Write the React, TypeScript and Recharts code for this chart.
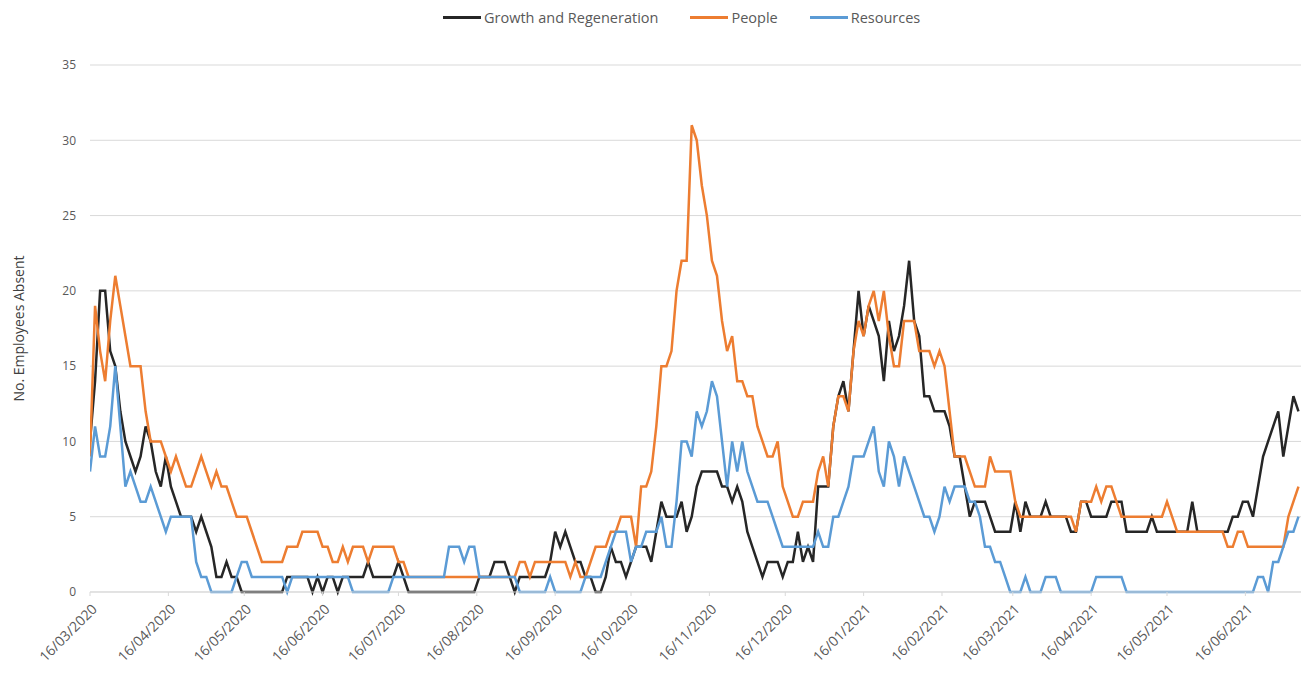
import React from 'react';
import { CartesianGrid, Legend, Line, LineChart, XAxis, YAxis } from 'recharts';

// one reading every second day, starting 16/03/2020
const STEP_DAYS = 2;
const START_DATE = Date.UTC(2020, 2, 16);
const DAY_MS = 24 * 60 * 60 * 1000;

const growth = [
  10, 14, 20, 20, 16, 15, 12, 10, 9, 8,
  9, 11, 10, 8, 7, 9, 7, 6, 5, 5,
  5, 4, 5, 4, 3, 1, 1, 2, 1, 1,
  0, 0, 0, 0, 0, 0, 0, 0, 0, 1,
  1, 1, 1, 1, 0, 1, 0, 1, 1, 0,
  1, 1, 1, 1, 1, 2, 1, 1, 1, 1,
  1, 2, 1, 0, 0, 0, 0, 0, 0, 0,
  0, 0, 0, 0, 0, 0, 0, 1, 1, 1,
  2, 2, 2, 1, 0, 1, 1, 1, 1, 1,
  1, 2, 4, 3, 4, 3, 2, 2, 1, 1,
  0, 0, 1, 3, 2, 2, 1, 2, 3, 3,
  3, 2, 4, 6, 5, 5, 5, 6, 4, 5,
  7, 8, 8, 8, 8, 7, 7, 6, 7, 6,
  4, 3, 2, 1, 2, 2, 2, 1, 2, 2,
  4, 2, 3, 2, 7, 7, 7, 11, 13, 14,
  12, 16, 20, 17, 19, 18, 17, 14, 18, 16,
  17, 19, 22, 18, 17, 13, 13, 12, 12, 12,
  11, 9, 9, 7, 5, 6, 6, 6, 5, 4,
  4, 4, 4, 6, 4, 6, 5, 5, 5, 6,
  5, 5, 5, 5, 4, 4, 6, 6, 5, 5,
  5, 5, 6, 6, 6, 4, 4, 4, 4, 4,
  5, 4, 4, 4, 4, 4, 4, 4, 6, 4,
  4, 4, 4, 4, 4, 4, 5, 5, 6, 6,
  5, 7, 9, 10, 11, 12, 9, 11, 13, 12,
];

const people = [
  9, 19, 16, 14, 18, 21, 19, 17, 15, 15,
  15, 12, 10, 10, 10, 9, 8, 9, 8, 7,
  7, 8, 9, 8, 7, 8, 7, 7, 6, 5,
  5, 5, 4, 3, 2, 2, 2, 2, 2, 3,
  3, 3, 4, 4, 4, 4, 3, 3, 2, 2,
  3, 2, 3, 3, 3, 2, 3, 3, 3, 3,
  3, 2, 2, 1, 1, 1, 1, 1, 1, 1,
  1, 1, 1, 1, 1, 1, 1, 1, 1, 1,
  1, 1, 1, 1, 1, 2, 2, 1, 2, 2,
  2, 2, 2, 2, 2, 1, 2, 1, 1, 2,
  3, 3, 3, 4, 4, 5, 5, 5, 3, 7,
  7, 8, 11, 15, 15, 16, 20, 22, 22, 31,
  30, 27, 25, 22, 21, 18, 16, 17, 14, 14,
  13, 13, 11, 10, 9, 9, 10, 7, 6, 5,
  5, 6, 6, 6, 8, 9, 7, 11, 13, 13,
  12, 16, 18, 17, 19, 20, 18, 20, 17, 15,
  15, 18, 18, 18, 16, 16, 16, 15, 16, 15,
  12, 9, 9, 9, 8, 7, 7, 7, 9, 8,
  8, 8, 8, 6, 5, 5, 5, 5, 5, 5,
  5, 5, 5, 5, 5, 4, 6, 6, 6, 7,
  6, 7, 7, 6, 5, 5, 5, 5, 5, 5,
  5, 5, 5, 6, 5, 4, 4, 4, 4, 4,
  4, 4, 4, 4, 4, 3, 3, 4, 4, 3,
  3, 3, 3, 3, 3, 3, 3, 5, 6, 7,
];

const resources = [
  8, 11, 9, 9, 11, 15, 11, 7, 8, 7,
  6, 6, 7, 6, 5, 4, 5, 5, 5, 5,
  5, 2, 1, 1, 0, 0, 0, 0, 0, 1,
  2, 2, 1, 1, 1, 1, 1, 1, 1, 0,
  1, 1, 1, 1, 1, 1, 1, 1, 1, 1,
  1, 1, 0, 0, 0, 0, 0, 0, 0, 0,
  1, 1, 1, 1, 1, 1, 1, 1, 1, 1,
  1, 3, 3, 3, 2, 3, 3, 1, 1, 1,
  1, 1, 1, 1, 1, 0, 0, 0, 0, 0,
  0, 1, 0, 0, 0, 0, 0, 0, 1, 1,
  1, 1, 2, 3, 4, 4, 4, 2, 3, 3,
  4, 4, 4, 5, 3, 3, 6, 10, 10, 9,
  12, 11, 12, 14, 13, 10, 7, 10, 8, 10,
  8, 7, 6, 6, 6, 5, 4, 3, 3, 3,
  3, 3, 3, 3, 4, 3, 3, 5, 5, 6,
  7, 9, 9, 9, 10, 11, 8, 7, 10, 9,
  7, 9, 8, 7, 6, 5, 5, 4, 5, 7,
  6, 7, 7, 7, 6, 6, 5, 3, 3, 2,
  2, 1, 0, 0, 0, 1, 0, 0, 0, 1,
  1, 1, 0, 0, 0, 0, 0, 0, 0, 1,
  1, 1, 1, 1, 1, 0, 0, 0, 0, 0,
  0, 0, 0, 0, 0, 0, 0, 0, 0, 0,
  0, 0, 0, 0, 0, 0, 0, 0, 0, 0,
  0, 1, 1, 0, 2, 2, 3, 4, 4, 5,
];

const tickLabels = [
  '16/03/2020', '16/04/2020', '16/05/2020', '16/06/2020', '16/07/2020', '16/08/2020',
  '16/09/2020', '16/10/2020', '16/11/2020', '16/12/2020', '16/01/2021', '16/02/2021',
  '16/03/2021', '16/04/2021', '16/05/2021', '16/06/2021',
];

const yTicks = [0, 5, 10, 15, 20, 25, 30, 35];

const seriesList = [
  { key: 'growth', name: 'Growth and Regeneration', color: '#262626' },
  { key: 'people', name: 'People', color: '#ED7D31' },
  { key: 'resources', name: 'Resources', color: '#5B9BD5' },
];

const FONT = '"Open Sans", "Liberation Sans", sans-serif';
const TEXT_COLOR = '#595959';

function labelToDay(label: string): number {
  const [d, m, y] = label.split('/').map(Number);
  return Math.round((Date.UTC(y, m - 1, d) - START_DATE) / DAY_MS);
}

const tickDays = tickLabels.map(labelToDay);
const labelByDay = new Map(tickDays.map((day, i) => [day, tickLabels[i]]));

const rows = growth.map((g, i) => ({
  day: i * STEP_DAYS,
  growth: g,
  people: people[i],
  resources: resources[i],
}));

function DateTick({ x, y, payload }: any) {
  return (
    <g transform={`translate(${x + 8},${y + 12})`}>
      <text
        textAnchor="end"
        transform="rotate(-45)"
        fontSize={14}
        fontFamily={FONT}
        fill={TEXT_COLOR}
      >
        {labelByDay.get(payload.value)}
      </text>
    </g>
  );
}

function YTitle({ viewBox }: any) {
  const cx = viewBox.x + 18;
  const cy = viewBox.y + viewBox.height / 2;
  return (
    <text
      x={cx}
      y={cy}
      transform={`rotate(-90 ${cx} ${cy})`}
      textAnchor="middle"
      dominantBaseline="central"
      fontSize={14}
      fontFamily={FONT}
      fill="#404040"
    >
      No. Employees Absent
    </text>
  );
}

function LegendRow({ payload }: any) {
  return (
    <div style={{ display: 'flex', alignItems: 'center', paddingLeft: 443, fontFamily: FONT }}>
      {(payload || []).map((item: any) => (
        <div key={item.value} style={{ display: 'flex', alignItems: 'center', marginRight: 32 }}>
          <span style={{ width: 38, height: 3, background: item.color, marginRight: 3 }} />
          <span style={{ fontSize: 14.5, color: TEXT_COLOR }}>{item.value}</span>
        </div>
      ))}
    </div>
  );
}

export default function App() {
  return (
    <div style={{ position: 'absolute', left: 0, top: 0, width: 1301, height: 675, background: '#fff' }}>
      <LineChart width={1301} height={675} data={rows} margin={{ top: 65, right: 0, bottom: 0, left: 0 }}>
        <CartesianGrid vertical={false} stroke="#d9d9d9" />
        <XAxis
          type="number"
          dataKey="day"
          domain={[0, 479]}
          ticks={tickDays}
          interval={0}
          height={83}
          tick={<DateTick />}
          tickLine={{ stroke: '#d9d9d9' }}
          tickSize={4}
          axisLine={{ stroke: '#d9d9d9' }}
          allowDataOverflow
        />
        <YAxis
          width={90}
          domain={[0, 35]}
          ticks={yTicks}
          interval={0}
          axisLine={false}
          tickLine={false}
          tickMargin={8}
          tick={{ fontSize: 12, fill: TEXT_COLOR, fontFamily: FONT }}
          label={<YTitle />}
        />
        <Legend
          layout="horizontal"
          verticalAlign="middle"
          align="center"
          content={<LegendRow />}
          wrapperStyle={{ top: 8, left: 0, width: 1301 }}
        />
        {seriesList.map((s) => (
          <Line
            key={s.key}
            type="linear"
            dataKey={s.key}
            name={s.name}
            stroke={s.color}
            strokeWidth={2.5}
            dot={false}
            activeDot={false}
            isAnimationActive={false}
          />
        ))}
      </LineChart>
    </div>
  );
}
